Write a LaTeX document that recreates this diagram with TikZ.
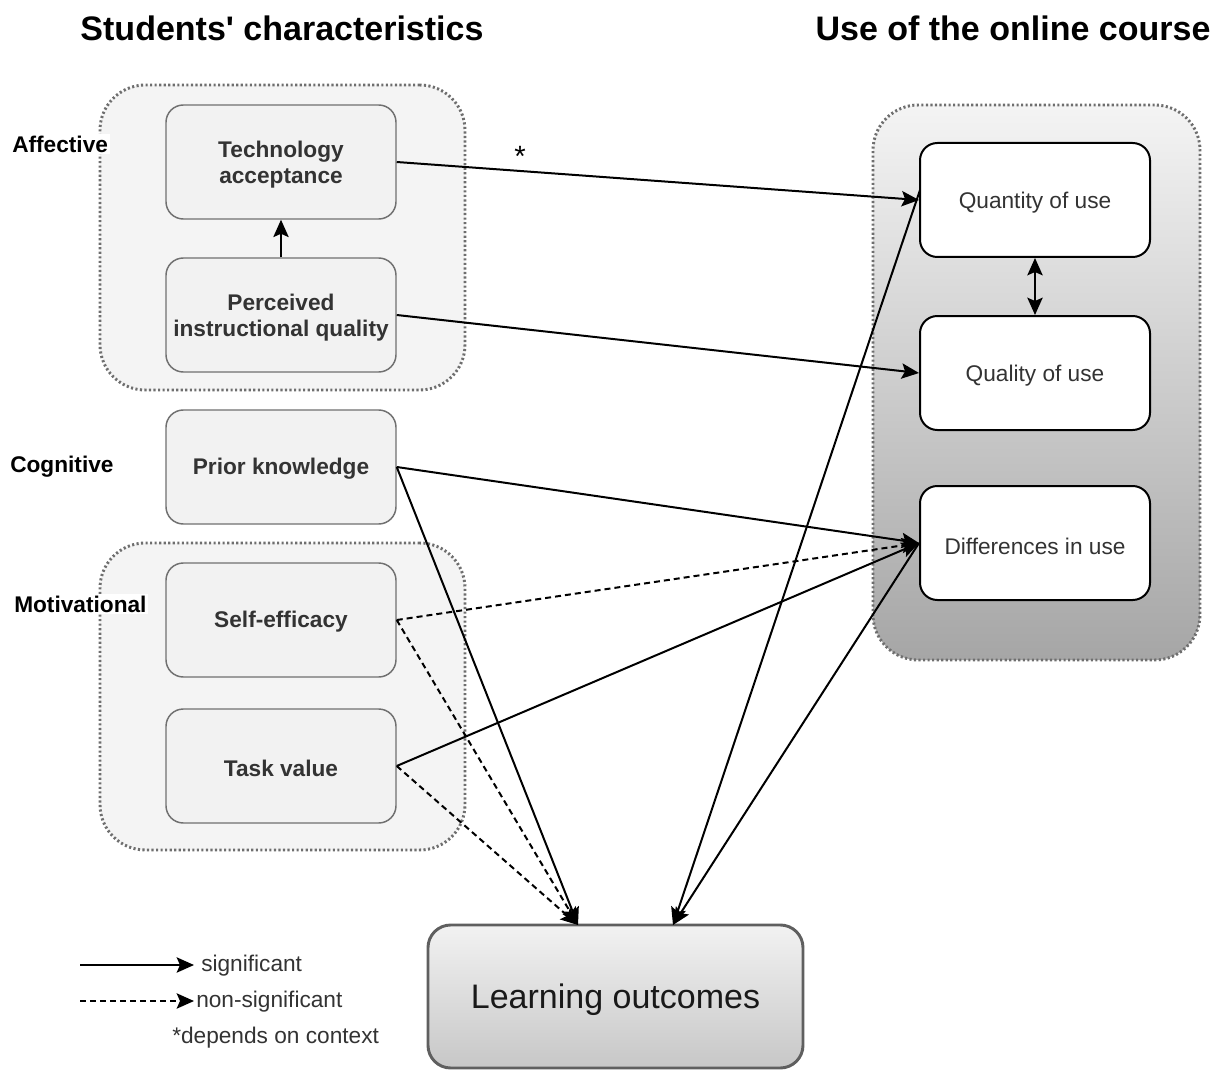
\documentclass[tikz,border=0pt]{standalone}
\usepackage{fontspec}
\setmainfont{Liberation Sans}
\usetikzlibrary{arrows.meta}
\definecolor{boxfill}{HTML}{F2F2F2}
\definecolor{boxline}{HTML}{707070}
\definecolor{grpline}{HTML}{6E6E6E}
\definecolor{grpfill}{HTML}{F4F4F4}
\definecolor{txt}{HTML}{333333}
\tikzset{
  tip/.style={-{Stealth[length=13pt,width=11.5pt,inset=2.5pt]}},
  conn/.style={tip, line width=1.5pt, black},
  dconn/.style={conn, dash pattern=on 4.5pt off 3pt},
  grp/.style={draw=grpline, line width=2.2pt, dash pattern=on 1.6pt off 1.8pt,
    rounded corners=34pt, inner sep=0pt},
  lbox/.style={draw=boxline, line width=1.1pt, fill=boxfill, rounded corners=13pt,
    minimum width=172.5pt, minimum height=85.5pt, inner sep=2pt},
  rbox/.style={draw=black, line width=1.5pt, fill=white, rounded corners=13pt,
    minimum width=172.5pt, minimum height=85.5pt, inner sep=2pt},
  ltxt/.style={align=center, text=txt, font=\fontsize{17}{19.5}\selectfont\bfseries},
  rtxt/.style={align=center, text=txt, font=\fontsize{17}{19.5}\selectfont},
  side/.style={anchor=west, fill=white, inner sep=1.5pt, text=black,
    font=\fontsize{17}{19.5}\selectfont\bfseries},
  title/.style={text=black, font=\fontsize{25.5}{30}\selectfont\bfseries},
  legtxt/.style={anchor=west, inner sep=0pt, text=txt, font=\fontsize{17}{19.5}\selectfont}
}
\begin{document}
\begin{tikzpicture}[x=0.75pt,y=-0.75pt]
\useasboundingbox (0,0) rectangle (1229,1070);
\fill[white] (0,0) rectangle (1229,1070);

% titles
\node[title] (t1) at (282,28) {Students\textquotesingle\ characteristics};
\node[title] (t2) at (1013,28) {Use of the online course};

% groups
\node[grp, fill=grpfill, minimum width=273.75pt, minimum height=228.75pt] (gA) at (282.5,237.5) {};
\node[grp, fill=grpfill, minimum width=273.75pt, minimum height=230.25pt] (gM) at (282.5,696.5) {};
\node[grp, top color=grpfill, bottom color=black!35, minimum width=245.25pt, minimum height=416.25pt] (gU) at (1036.5,382.5) {};

% side labels
\node[side] (lA) at (10,144) {Affective};
\node[side] (lC) at (8,467) {Cognitive};
\node[side] (lM) at (12,604) {Motivational};

% left boxes
\node[lbox] (TA) at (281,162) {};
\node[lbox] (PIQ) at (281,315) {};
\node[lbox] (PK) at (281,467) {};
\node[lbox] (SE) at (281,620) {};
\node[lbox] (TV) at (281,766) {};
\node[ltxt] (TAt) at (281,165) {Technology\\acceptance};
\node[ltxt] (PIQt) at (281,318) {Perceived\\instructional quality};
\node[ltxt] (PKt) at (281,469) {Prior knowledge};
\node[ltxt] (SEt) at (281,622) {Self-efficacy};
\node[ltxt] (TVt) at (281,768) {Task value};

% right boxes
\node[rbox] (QN) at (1035,200) {};
\node[rbox] (QL) at (1035,373) {};
\node[rbox] (DI) at (1035,543) {};
\node[rtxt] (QNt) at (1035,203) {Quantity of use};
\node[rtxt] (QLt) at (1035,376) {Quality of use};
\node[rtxt] (DIt) at (1035,546) {Differences in use};

% learning outcomes
\node[draw=boxline!85!black, line width=2.2pt, top color=boxfill, bottom color=black!22,
  rounded corners=17pt, minimum width=281.25pt, minimum height=107.25pt, inner sep=0pt] (LO) at (615.5,996.5) {};
\node[text=black!90, font=\fontsize{25.5}{30}\selectfont] (LOt) at (615.5,1000) {Learning outcomes};
\coordinate (lo1) at (578,925);
\coordinate (lo2) at (673,925);

% connectors
\draw[conn] (TA.east) -- (QN.west);
\node[font=\fontsize{22}{24}\selectfont, text=black] (star) at (520,156) {*};
\draw[conn] (PIQ.north) -- (TA.south);
\draw[conn, {Stealth[length=13pt,width=11.5pt,inset=2.5pt]}-{Stealth[length=13pt,width=11.5pt,inset=2.5pt]}] (QN.south) -- (QL.north);
\draw[conn] (PIQ.east) -- (QL.west);
\draw[conn] (PK.east) -- (DI.west);
\draw[conn] (PK.east) -- (lo1);
\draw[dconn] (SE.east) -- (DI.west);
\draw[dconn] (SE.east) -- (lo1);
\draw[conn] (TV.east) -- (DI.west);
\draw[dconn] (TV.east) -- (lo1);
\coordinate (qn1) at (920,190);
\draw[conn] (qn1) -- (lo2);
\draw[conn] (DI.west) -- (lo2);

% legend
\coordinate (la1) at (80,965);
\coordinate (la2) at (194,965);
\coordinate (lb1) at (80,1001);
\coordinate (lb2) at (194,1001);
\draw[conn] (la1) -- (la2);
\draw[dconn] (lb1) -- (lb2);
\node[legtxt] (lg1) at (201,966) {significant};
\node[legtxt] (lg2) at (196,1002) {non-significant};
\node[legtxt] (lg3) at (172,1038) {*depends on context};
\end{tikzpicture}
\end{document}
